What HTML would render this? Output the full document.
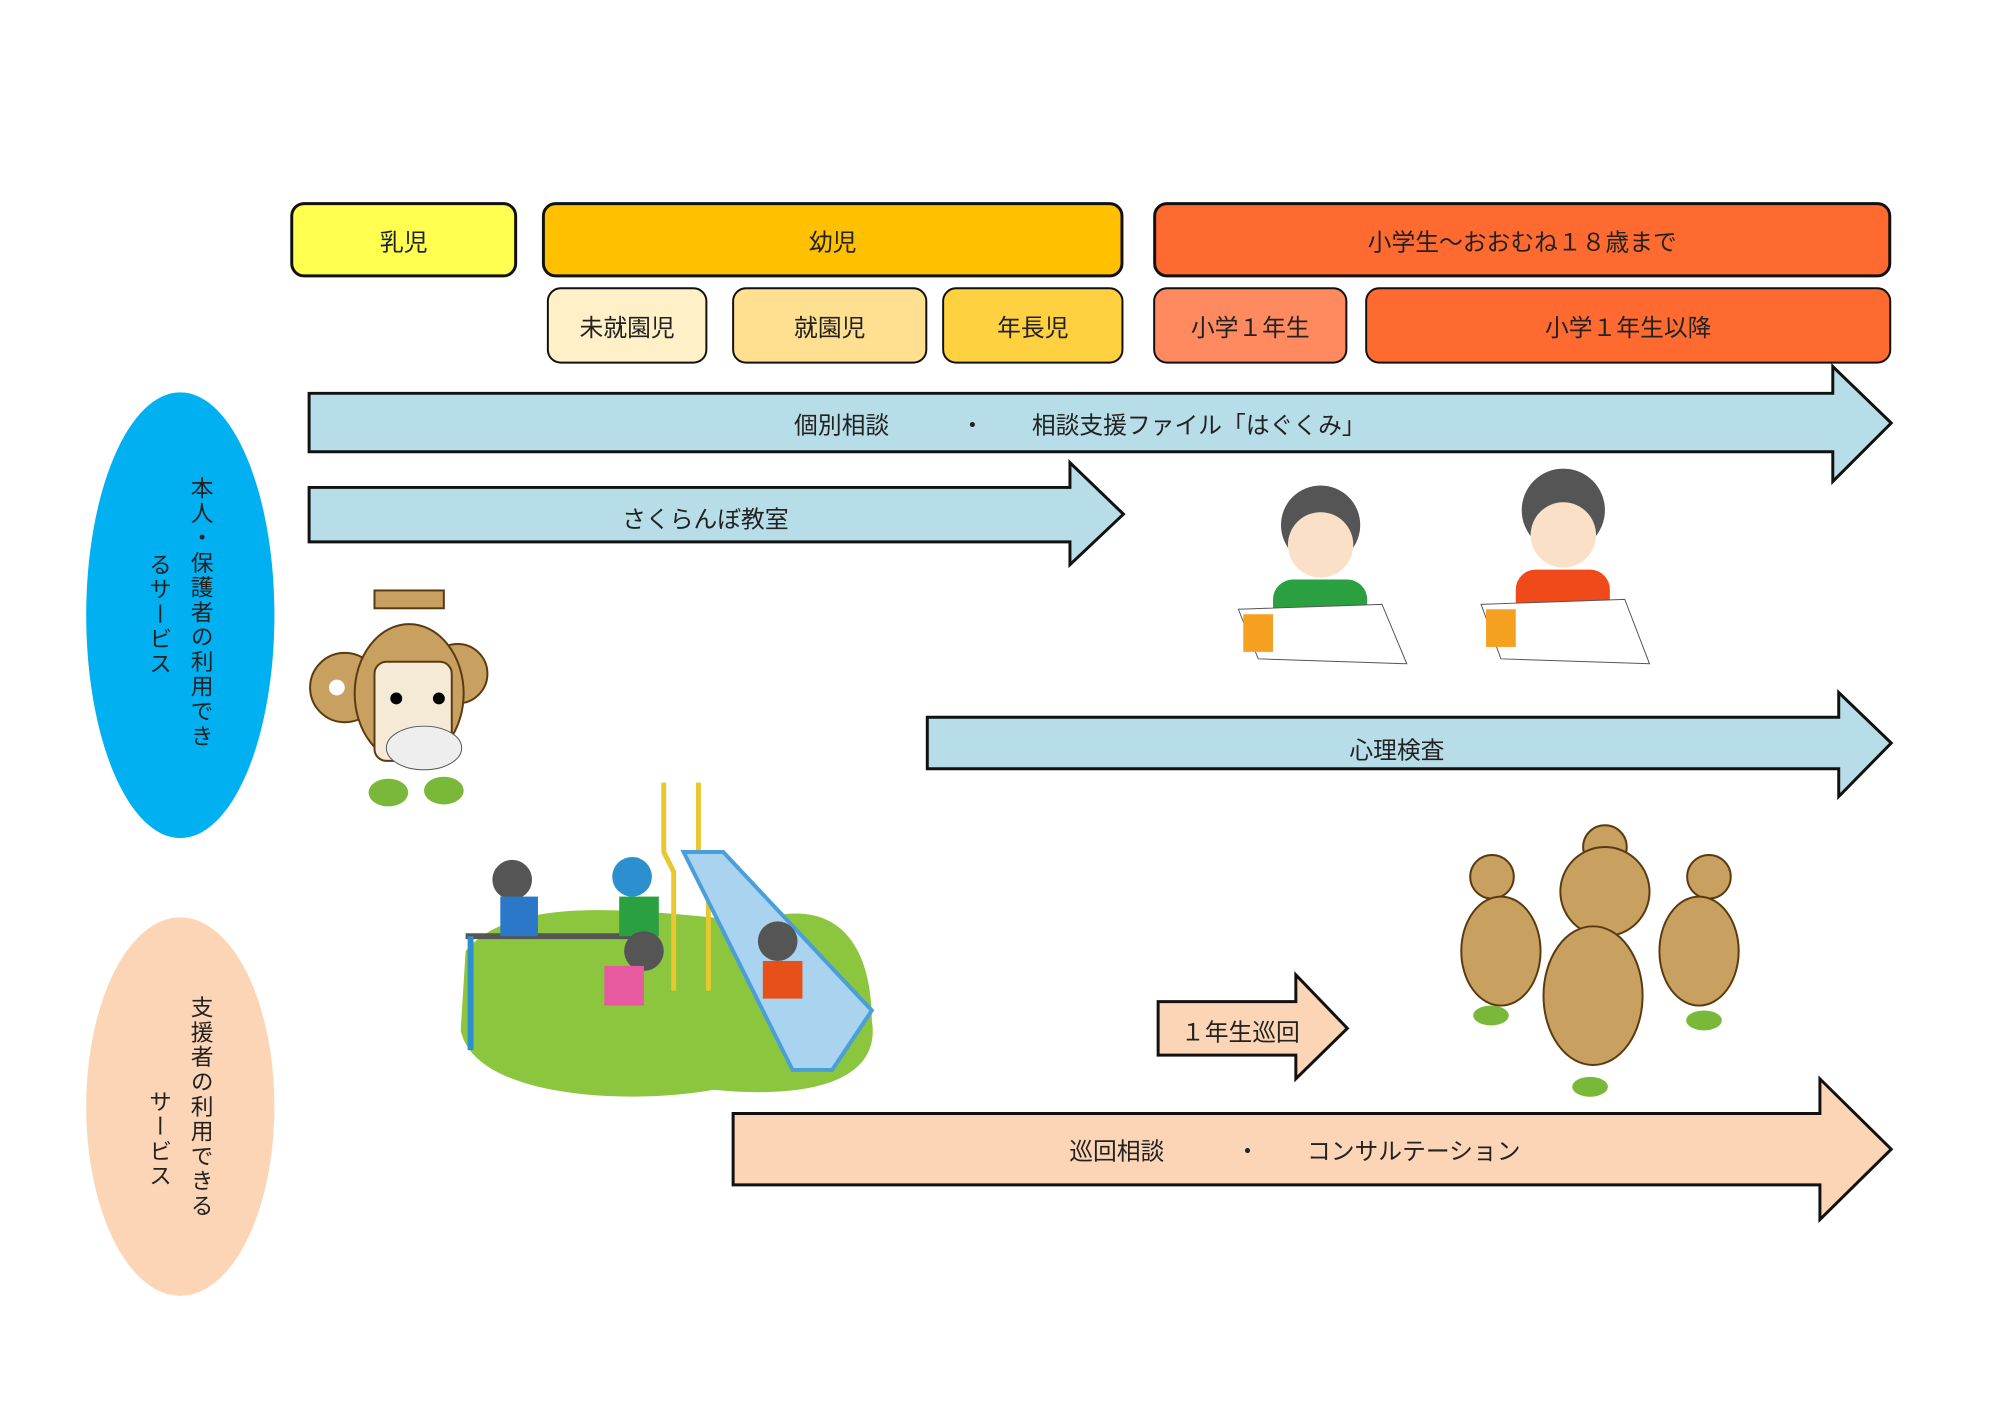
<!DOCTYPE html>
<html><head><meta charset="utf-8"><style>
body{margin:0;width:2000px;height:1413px;background:#fff;overflow:hidden;position:relative;font-family:"Liberation Sans","Noto Sans CJK JP",sans-serif;color:#222}
#w{position:absolute;left:0;top:0;width:2000px;height:1413px;transform:scale(0.9907);transform-origin:0 0}
.b{position:absolute;box-sizing:border-box;border:3px solid #111;border-radius:14px;display:flex;align-items:center;justify-content:center;font-size:24px}
.t{position:absolute;font-size:24px;white-space:pre;transform:translate(-50%,-50%)}
.v{position:absolute;writing-mode:vertical-rl;font-size:23px;letter-spacing:2px;line-height:1}
svg{position:absolute;left:0;top:0}
</style></head><body><div id="w">
<svg width="2000" height="1413">
<ellipse cx="182" cy="621" rx="95" ry="225" fill="#00b0f0"/>
<ellipse cx="182" cy="1117" rx="95" ry="191" fill="#fbd5b5"/>
<g stroke="#111" stroke-width="3" fill="#b7dde8">
<polygon points="312,397 1850,397 1850,370 1909,427 1850,486 1850,456 312,456"/>
<polygon points="312,492 1080,492 1080,467 1134,519 1080,570 1080,547 312,547"/>
<polygon points="936,724 1856,724 1856,699 1909,750 1856,804 1856,776 936,776"/>
<polygon fill="#fbd5b5" points="1169,1011 1308,1011 1308,984 1360,1038 1308,1089 1308,1065 1169,1065"/>
<polygon fill="#fbd5b5" points="740,1124 1837,1124 1837,1089 1909,1160 1837,1231 1837,1196 740,1196"/>
</g>
<g>
<rect x="378" y="596" width="70" height="18" fill="#c8a060" stroke="#5a3a10" stroke-width="2"/>
<circle cx="348" cy="694" r="35" fill="#c8a060" stroke="#5a3a10" stroke-width="2"/><circle cx="340" cy="694" r="8" fill="#fff"/>
<circle cx="462" cy="680" r="30" fill="#c8a060" stroke="#5a3a10" stroke-width="2"/>
<ellipse cx="413" cy="700" rx="55" ry="70" fill="#c8a060" stroke="#5a3a10" stroke-width="2"/>
<rect x="378" y="668" width="78" height="100" rx="12" fill="#f5ead5" stroke="#5a3a10" stroke-width="2"/>
<circle cx="400" cy="705" r="6"/><circle cx="443" cy="705" r="6"/>
<ellipse cx="428" cy="755" rx="38" ry="22" fill="#eee" stroke="#555"/>
<ellipse cx="392" cy="800" rx="20" ry="14" fill="#7ab83a"/><ellipse cx="448" cy="798" rx="20" ry="14" fill="#7ab83a"/>
</g>
<path d="M470,960 C520,900 650,920 760,930 C850,900 880,960 880,1030 C890,1090 820,1110 720,1100 C640,1115 480,1110 465,1040 Z" fill="#8cc63f"/>
<line x1="470" y1="945" x2="650" y2="945" stroke="#555" stroke-width="6"/>
<line x1="475" y1="945" x2="475" y2="1060" stroke="#2b8fd0" stroke-width="6"/>
<path d="M670,790 L670,860 L680,880 L680,1000 M705,790 L705,860 L715,880 L715,1000" stroke="#e8c830" stroke-width="5" fill="none"/>
<polygon points="690,860 730,860 880,1020 840,1080 800,1080" fill="#a9d3ee" stroke="#4a9fd8" stroke-width="4"/>
<circle cx="517" cy="888" r="20" fill="#555"/><rect x="505" y="905" width="38" height="40" fill="#2b78c8"/>
<circle cx="638" cy="885" r="20" fill="#2b8fd0"/><rect x="625" y="905" width="40" height="40" fill="#2aa040"/>
<circle cx="650" cy="960" r="20" fill="#555"/><rect x="610" y="975" width="40" height="40" fill="#e85aa0"/>
<circle cx="785" cy="950" r="20" fill="#555"/><rect x="770" y="970" width="40" height="38" fill="#e8501a"/>
<g>
<circle cx="1333" cy="530" r="40" fill="#555"/><circle cx="1333" cy="550" r="33" fill="#fbe0c8"/>
<rect x="1285" y="585" width="95" height="50" rx="20" fill="#2aa040"/>
<polygon points="1250,615 1395,610 1420,670 1270,665" fill="#fff" stroke="#555"/>
<rect x="1255" y="620" width="30" height="38" fill="#f5a020"/>
<circle cx="1578" cy="515" r="42" fill="#555"/><circle cx="1578" cy="540" r="33" fill="#fbe0c8"/>
<rect x="1530" y="575" width="95" height="55" rx="20" fill="#f04a1a"/>
<polygon points="1495,610 1640,605 1665,670 1515,665" fill="#fff" stroke="#555"/>
<rect x="1500" y="615" width="30" height="38" fill="#f5a020"/>
</g>
<g fill="#c8a060" stroke="#5a3a10" stroke-width="2">
<circle cx="1506" cy="885" r="22"/><ellipse cx="1515" cy="960" rx="40" ry="55"/>
<circle cx="1725" cy="885" r="22"/><ellipse cx="1715" cy="960" rx="40" ry="55"/>
<circle cx="1620" cy="855" r="22"/><ellipse cx="1620" cy="900" rx="45" ry="45"/>
<ellipse cx="1608" cy="1005" rx="50" ry="70"/>
</g>
<ellipse cx="1505" cy="1025" rx="18" ry="10" fill="#7ab83a"/><ellipse cx="1720" cy="1030" rx="18" ry="10" fill="#7ab83a"/><ellipse cx="1605" cy="1097" rx="18" ry="10" fill="#7ab83a"/>
</svg>
<div class="b" style="left:293px;top:204px;width:229px;height:76px;background:#ffff50">乳児</div>
<div class="b" style="left:547px;top:204px;width:587px;height:76px;background:#ffc000">幼児</div>
<div class="b" style="left:1164px;top:204px;width:745px;height:76px;background:#ff6a30">小学生～おおむね１８歳まで</div>
<div class="b" style="left:552px;top:290px;width:162px;height:77px;background:#fff0c8;border-width:2px">未就園児</div>
<div class="b" style="left:739px;top:290px;width:197px;height:77px;background:#ffe090;border-width:2px">就園児</div>
<div class="b" style="left:951px;top:290px;width:183px;height:77px;background:#ffd040;border-width:2px">年長児</div>
<div class="b" style="left:1164px;top:290px;width:196px;height:77px;background:#ff8a60;border-width:2px">小学１年生</div>
<div class="b" style="left:1378px;top:290px;width:531px;height:77px;background:#ff6a30;border-width:2px">小学１年生以降</div>
<div class="t" style="left:1090px;top:427px">個別相談　　　・　　相談支援ファイル「はぐくみ」</div>
<div class="t" style="left:712px;top:522px">さくらんぼ教室</div>
<div class="t" style="left:1410px;top:755px">心理検査</div>
<div class="t" style="left:1252px;top:1040px">１年生巡回</div>
<div class="t" style="left:1307px;top:1160px">巡回相談　　　・　　コンサルテーション</div>
<div class="v" style="left:190px;top:481px">本人・保護者の利用でき</div>
<div class="v" style="left:148px;top:558px">るサービス</div>
<div class="v" style="left:190px;top:1005px">支援者の利用できる</div>
<div class="v" style="left:148px;top:1100px">サービス</div>
</div></body></html>
